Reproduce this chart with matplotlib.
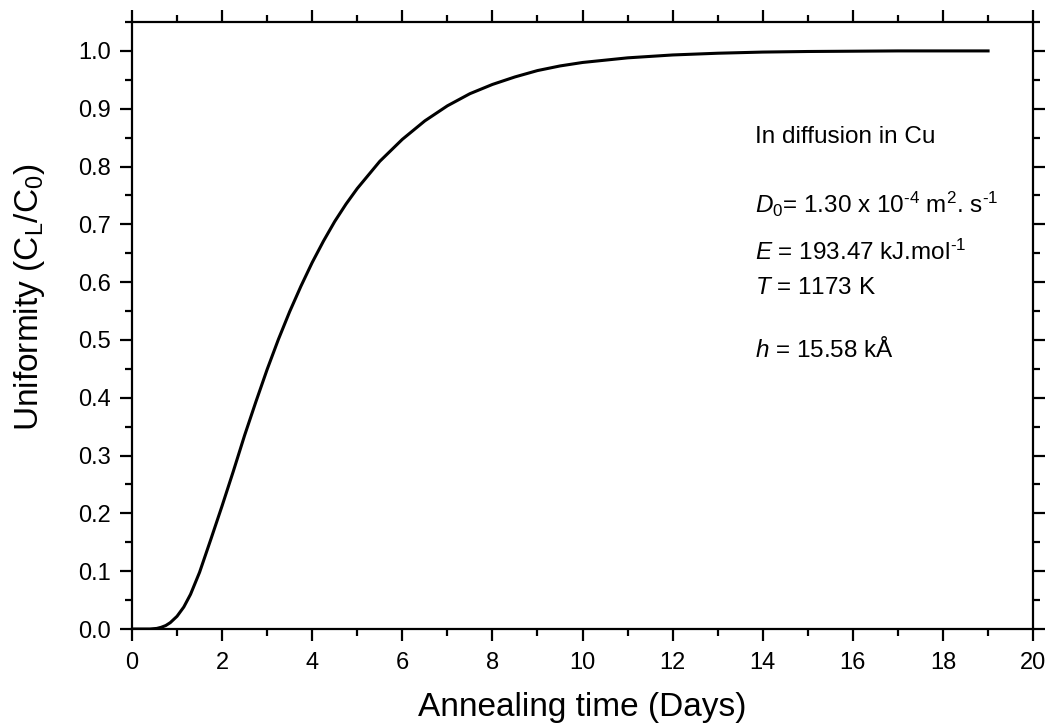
import numpy as np
import matplotlib
matplotlib.use('Agg')
import matplotlib.pyplot as plt
from matplotlib.ticker import MultipleLocator, FormatStrFormatter

plt.rcParams['font.family'] = 'Liberation Sans'
plt.rcParams['mathtext.fontset'] = 'custom'
plt.rcParams['mathtext.rm'] = 'Liberation Sans'
plt.rcParams['mathtext.it'] = 'Liberation Sans:italic'
plt.rcParams['mathtext.bf'] = 'Liberation Sans:bold'

# annealing time (days) and uniformity C_L/C_0
days = [0.0, 0.4, 0.55, 0.65, 0.75, 0.85, 1.0, 1.15, 1.3, 1.5, 1.75, 2.0,
        2.25, 2.5, 2.75, 3.0, 3.25, 3.5, 3.75, 4.0, 4.25, 4.5, 4.75, 5.0,
        5.5, 6.0, 6.5, 7.0, 7.5, 8.0, 8.5, 9.0, 9.5, 10.0, 11.0, 12.0, 13.0,
        14.0, 15.0, 16.0, 17.0, 18.0, 19.0]
uniformity = [0.0, 0.0, 0.001, 0.003, 0.006, 0.011, 0.022, 0.038, 0.060,
              0.098, 0.155, 0.213, 0.273, 0.335, 0.393, 0.449, 0.501, 0.549,
              0.593, 0.634, 0.671, 0.705, 0.735, 0.762, 0.809, 0.847, 0.879,
              0.905, 0.926, 0.942, 0.955, 0.966, 0.974, 0.980, 0.988, 0.993,
              0.996, 0.998, 0.999, 0.9995, 1.0, 1.0, 1.0]

info = ['In diffusion in Cu',
        r'$D_{\mathit{0}}$= 1.30 x 10$^{\text{-}4}$ m$^{2}$. s$^{\text{-}1}$',
        r'$E$ = 193.47 kJ.mol$^{\text{-}1}$',
        r'$T$ = 1173 K',
        r'$h$ = 15.58 kÅ']
info_y = [143, 213, 260, 294, 357]

fig = plt.figure(figsize=(10.54, 7.24), dpi=100)
ax = fig.add_axes([0.1252, 0.1312, 0.855, 0.8384])

ax.plot(days, uniformity, color='black', lw=2.2, solid_joinstyle='round')

ax.set_xlim(0, 20)
ax.set_ylim(0, 1.05)
ax.xaxis.set_major_locator(MultipleLocator(2))
ax.xaxis.set_minor_locator(MultipleLocator(1))
ax.yaxis.set_major_locator(MultipleLocator(0.1))
ax.yaxis.set_minor_locator(MultipleLocator(0.05))
ax.yaxis.set_major_formatter(FormatStrFormatter('%.1f'))

for s in ax.spines.values():
    s.set_linewidth(1.6)
ax.tick_params(which='both', direction='out', top=True, right=True,
               width=1.6, labelsize=17)
ax.tick_params(which='major', length=8.5)
ax.tick_params(which='minor', length=5)
ax.tick_params(axis='x', which='major', pad=8)
ax.tick_params(axis='y', which='major', pad=6.5)

ax.set_xlabel('Annealing time (Days)', fontsize=24, labelpad=13)
ax.set_ylabel(r'Uniformity (C$_\mathregular{L}$/C$_\mathregular{0}$)', fontsize=24)
ax.yaxis.set_label_coords(-0.094, 0.547)

for txt, yp in zip(info, info_y):
    fig.text(755 / 1054, 1 - yp / 724, txt, fontsize=17.5, va='baseline', ha='left')

fig.savefig('out.png', dpi=100)
